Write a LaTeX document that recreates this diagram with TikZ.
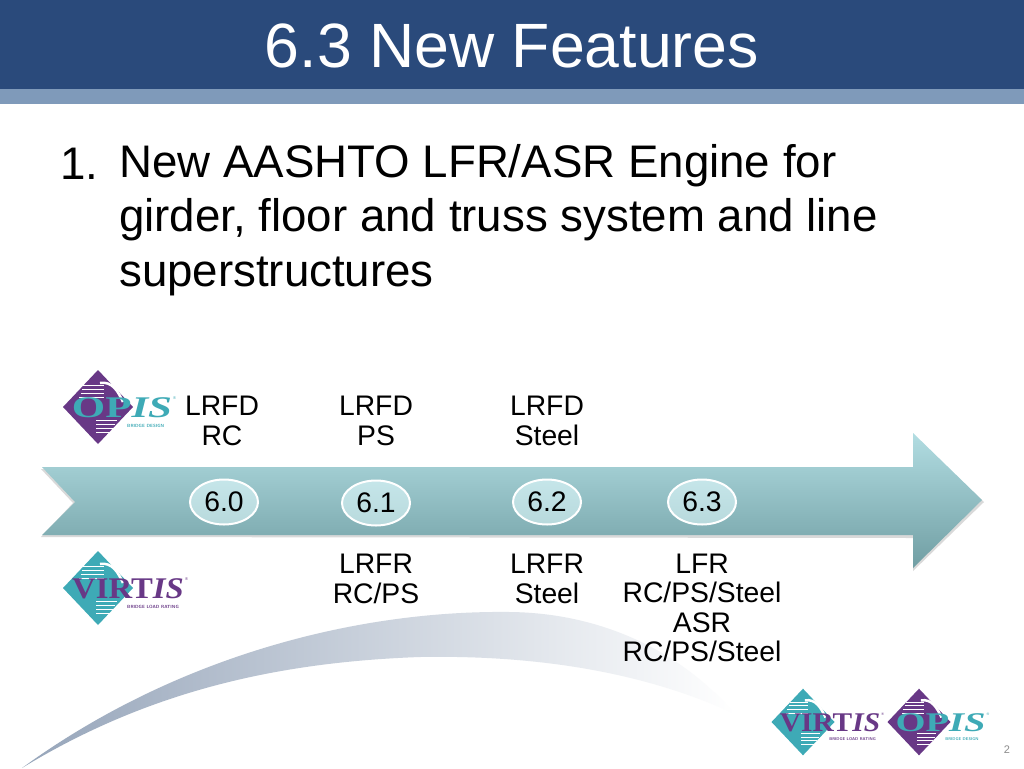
\documentclass[tikz,border=0pt]{standalone}
\usepackage{fontspec}
\setmainfont{Liberation Sans}
\newfontfamily\logofont{Liberation Serif}
\usetikzlibrary{positioning, shapes.geometric}
\definecolor{navy1}{RGB}{42,74,123}
\definecolor{steel1}{RGB}{127,154,186}
\definecolor{teal1}{RGB}{62,170,182}
\definecolor{purple1}{RGB}{104,56,134}
\definecolor{arrowtop}{RGB}{178,221,226}
\definecolor{arrowmid}{RGB}{160,205,209}
\definecolor{arrowbot}{RGB}{112,158,163}
\definecolor{swoosh1}{RGB}{150,165,186}
\tikzset{
  pics/bridgelogo/.style n args={6}{code={
      \fill[#1] (-35,0) -- (0,-37) -- (35,0) -- (0,37) -- cycle;
      \foreach \s in {-22,-18,-14,-10}
        \draw[white, line width=1pt] (-22-\s/3,\s) -- (6,\s);
      \foreach \s in {13,17,21,25}
        \draw[white, line width=1pt] (-2,\s) -- (23-\s/3,\s);
      \draw[white, line width=2.5pt] (2,-24) .. controls (14,-26) and (20,-16) .. (25,-5);
      \node[logoword, text=#2, xscale=#4, anchor=base] at (#5,10) {#3};
      \node[logosub, text=#2, anchor=west] at (29,19) {#6};
      \node[logosub, text=#2, anchor=west, font=\fontsize{4}{4}\selectfont] at (#5*2+27,-9) {®};
  }}
}
\begin{document}
\begin{tikzpicture}[x=1pt, y=-1pt,
    label/.style={align=center, inner sep=0pt, font=\fontsize{28.3}{29.5}\selectfont},
    version/.style={shape=ellipse, draw=white, line width=2pt, top color=arrowtop!75!white,
      bottom color=arrowmid!75!white, minimum width=68pt, minimum height=45pt, inner sep=0pt,
      font=\fontsize{28.3}{30}\selectfont},
    bodytext/.style={inner sep=0pt, font=\fontsize{45.65}{54.5}\selectfont},
    logoword/.style={inner sep=0pt, transform shape, font=\fontsize{30}{30}\logofont\bfseries},
    logosub/.style={inner sep=0pt, transform shape, font=\fontsize{4.5}{4.5}\sffamily\bfseries}
]
  \useasboundingbox (0,0) rectangle (1024,768);
  \fill[white] (0,0) rectangle (1024,768);

  % header
  \fill[navy1] (0,0) rectangle (1024,89);
  \fill[steel1] (0,89) rectangle (1024,104);
  \node[inner sep=0pt, text=white, font=\fontsize{62.6}{70}\selectfont, name=title] at(512,46) {6.3 New Features};

  % list item
  \node[bodytext, anchor=base west, name=num] at(60,179) {1.};
  \node[bodytext, anchor=north west, align=left, name=item] at(119,144) {New AASHTO LFR/ASR Engine for\\girder, floor and truss system and line\\superstructures};

  % swoosh
  \shade[left color=swoosh1, right color=white]
    (22,768) .. controls (170,660) and (350,610) .. (510,612)
    .. controls (600,613) and (680,650) .. (735,714)
    .. controls (640,670) and (530,655) .. (420,657)
    .. controls (280,662) and (150,690) .. cycle;

  % timeline arrow
  \fill[black!15] (41,469) -- (913,469) -- (913,435) -- (984,502) -- (913,571) -- (913,538) -- (41,537) -- (73,503) -- cycle;
  \shade[top color=arrowtop, middle color=arrowmid, bottom color=arrowbot]
    (42,467) -- (913,467) -- (913,433) -- (982,500) -- (913,568) -- (913,535) -- (42,535) -- (75,502) -- cycle;

  \node[version, name=v60] at(224,502) {6.0};
  \node[version, name=v61] at(376,503) {6.1};
  \node[version, name=v62] at(547,502) {6.2};
  \node[version, name=v63] at(702,502) {6.3};

  \node[label, name=lrfdrc] at(222,421) {LRFD\\RC};
  \node[label, name=lrfdps] at(376,421) {LRFD\\PS};
  \node[label, name=lrfdst] at(547,421) {LRFD\\Steel};
  \node[label, name=lrfrrc] at(376,579) {LRFR\\RC/PS};
  \node[label, name=lrfrst] at(547,579) {LRFR\\Steel};
  \node[label, name=lfrasr] at(702,608) {LFR\\RC/PS/Steel\\ASR\\RC/PS/Steel};

  % logos
  \pic at(98,407) {bridgelogo={purple1}{teal1}{OP{\itshape IS}}{1.43}{24}{BRIDGE DESIGN}};
  \pic at(98,588) {bridgelogo={teal1}{purple1}{VIRT{\itshape IS}}{1.09}{30}{BRIDGE LOAD RATING}};
  \pic[scale=0.9] at(803,722) {bridgelogo={teal1}{purple1}{VIRT{\itshape IS}}{1.09}{30}{BRIDGE LOAD RATING}};
  \pic[scale=0.9] at(919,722) {bridgelogo={purple1}{teal1}{OP{\itshape IS}}{1.43}{24}{BRIDGE DESIGN}};

  \node[inner sep=0pt, text=black!45, font=\fontsize{11}{12}\selectfont, name=pagenum] at(1007,750) {2};
\end{tikzpicture}
\end{document}
